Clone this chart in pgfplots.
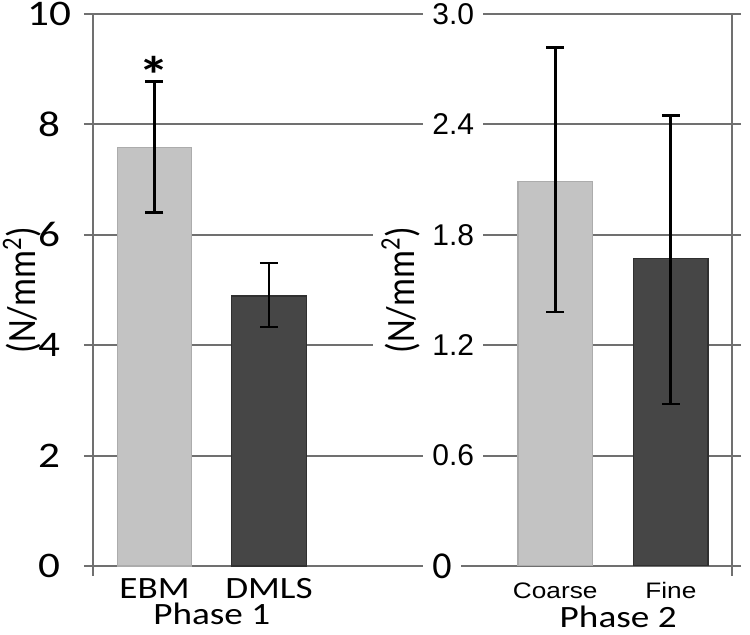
\documentclass[border=0pt]{standalone}
\usepackage{pgfplots}
\pgfplotsset{compat=1.18}
\usepackage{fontspec}
\setmainfont{Carlito}
\newfontfamily\lf{Carlito}[FakeStretch=1.2]
\newfontfamily\cf{Carlito}
\newfontfamily\af{Liberation Sans}
\newfontfamily\afs{Liberation Sans}[FakeStretch=1.17]
\definecolor{gridgray}{RGB}{112,112,112}
\definecolor{lightbar}{RGB}{195,195,195}
\definecolor{lightedge}{RGB}{172,172,172}
\definecolor{darkbar}{RGB}{70,70,70}
\definecolor{darkedge}{RGB}{48,48,48}
\pgfplotsset{
  myerr/.style={error bars/.cd, y dir=both, y explicit,
    error bar style={black, line width=1.4pt},
    error mark options={rotate=90, black, line width=1.4pt, mark size=4.5pt}},
}
\begin{document}
\begin{tikzpicture}
\begin{axis}[
  name=ax,
  scale only axis, width=319.5pt, height=276pt,
  xmin=-0.537, xmax=5.044, ymin=0, ymax=10,
  clip=false,
  separate axis lines,
  axis line style={gridgray, line width=1pt},
  x axis line style={draw=none},
  ytick={0,2,4,6,8,10},
  ymajorgrids, grid style={gridgray, line width=1pt},
  ytick pos=both, yticklabel pos=left,
  xtick pos=bottom,
  tick align=outside, major tick length=4.5pt,
  tick style={gridgray, line width=1pt},
  yticklabel style={anchor=center, xshift=-17.5pt, font=\lf\fontsize{18}{18}\selectfont},
  /pgf/number format/assume math mode=true,
  xtick={0,1,3.5,4.51},
  xticklabels={EBM, DMLS, {\afs\fontsize{11.2}{12}\selectfont Coarse}, {\afs\fontsize{11.2}{12}\selectfont Fine}},
  xtick style={draw=none},
  xticklabel style={anchor=base, yshift=-12pt, font=\lf\fontsize{15.5}{16}\selectfont},
  extra x ticks={-0.537,5.044},
  extra x tick labels={},
  extra x tick style={xtick style={draw=gridgray, line width=1pt}, major tick length=5pt},
  ylabel={\scalebox{1}[1.15]{(N/mm\textsuperscript{2})}},
  every axis y label/.style={at={(rel axis cs:0,0.5)}, xshift=-35.5pt, rotate=90, anchor=center, font=\cf\fontsize{17.5}{18}\selectfont},
]
\addplot[ybar, bar width=0.65, bar shift=0pt, fill=lightbar, draw=lightedge, line width=0.6pt, myerr]
  coordinates {(0,7.58) += (0,1.20) -= (0,1.17)};
\addplot[ybar, bar width=0.65, bar shift=0pt, fill=darkbar, draw=darkedge, line width=0.6pt, myerr]
  coordinates {(1,4.89) += (0,0.60) -= (0,0.56)};
\node[font=\lf\bfseries\fontsize{26}{26}\selectfont] at (axis cs:0,8.9) {*};
\node[anchor=base, yshift=-29.5pt, font=\lf\fontsize{15.5}{16}\selectfont] at (axis cs:0.5,0) {Phase 1};
\node[anchor=base, yshift=-31pt, font=\lf\fontsize{15.5}{16}\selectfont] at (axis cs:4.05,0) {Phase 2};
\end{axis}
\begin{axis}[
  at={(ax.south west)}, anchor=south west,
  scale only axis, width=319.5pt, height=276pt,
  xmin=-0.537, xmax=5.044, ymin=0, ymax=3,
  axis x line=none, axis y line*=left,
  y axis line style={draw=none},
  ytick={0,0.6,1.2,1.8,2.4,3.0},
  yticklabels={{\cf\fontsize{19}{19}\selectfont 0}, 0.6, 1.2, 1.8, 2.4, 3.0},
  ytick style={draw=none},
  yticklabel style={anchor=west, xshift=165pt, fill=white, inner xsep=4.5pt, inner ysep=3pt, font=\af\fontsize{15}{15}\selectfont},
  ylabel={\scalebox{1}[1.15]{(N/mm\textsuperscript{2})}},
  every axis y label/.style={at={(rel axis cs:0,0.5)}, xshift=153.75pt, rotate=90, anchor=center, fill=white, inner sep=4pt, font=\cf\fontsize{17.5}{18}\selectfont},
]
\addplot[ybar, bar width=0.65, bar shift=0pt, fill=lightbar, draw=lightedge, line width=0.6pt, myerr]
  coordinates {(3.5,2.09) += (0,0.73) -= (0,0.71)};
\addplot[ybar, bar width=0.65, bar shift=0pt, fill=darkbar, draw=darkedge, line width=0.6pt, myerr]
  coordinates {(4.51,1.67) += (0,0.78) -= (0,0.79)};
\end{axis}
\pgfresetboundingbox
\path (ax.south west) ++(-46.5pt,-34.5pt) rectangle ++(375pt,317.5pt);
\end{tikzpicture}
\end{document}
